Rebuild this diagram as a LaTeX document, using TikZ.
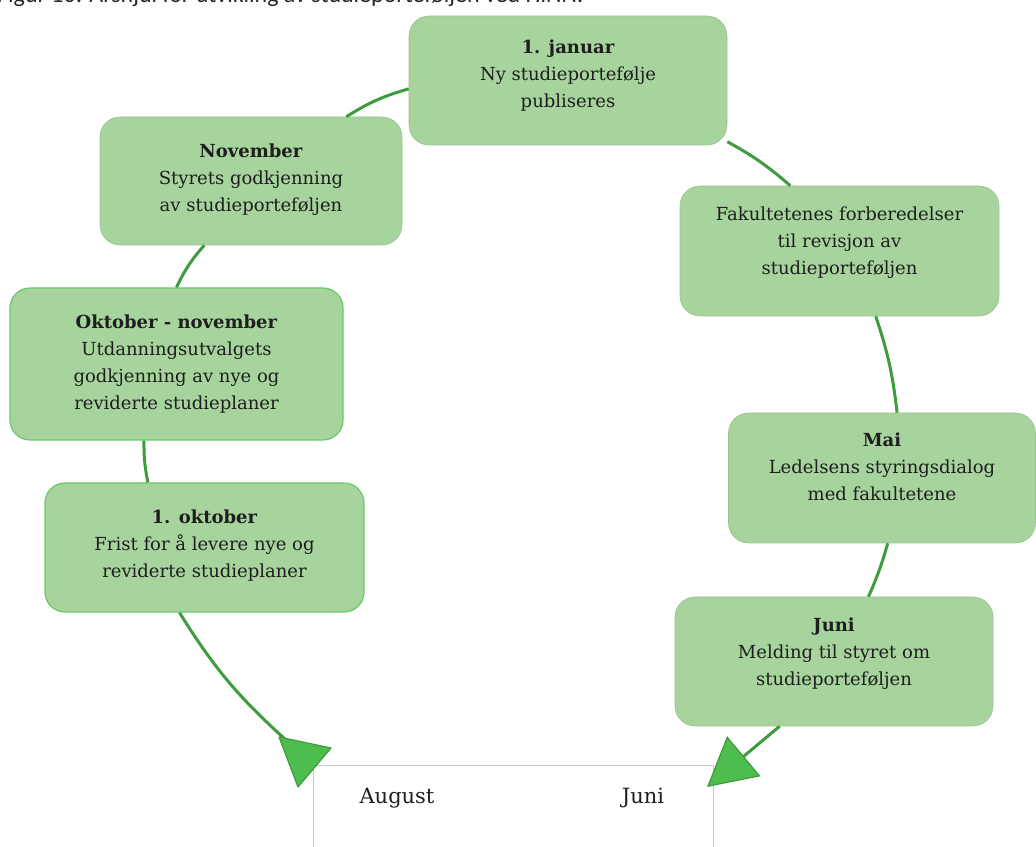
\documentclass[tikz,border=0pt]{standalone}
\usepackage{fontspec}
\setmainfont{DejaVu Serif}
\newfontfamily\capfont{Carlito}
\usetikzlibrary{arrows.meta}

\definecolor{boksgronn}{HTML}{A7D49D}
\definecolor{linjegronn}{HTML}{3E9B3E}
\definecolor{pilgronn}{HTML}{4DBE4D}
\definecolor{tekstgraa}{HTML}{1E1E1E}

\tikzset{
	boks/.style={rectangle, rounded corners=20pt, fill=boksgronn, draw=boksgronn!92!black, line width=0.6pt,
		inner sep=0pt, minimum width=318pt, minimum height=129pt, align=center, text=tekstgraa,
		font=\fontsize{18}{27}\selectfont},
	kantboks/.style={boks, draw=pilgronn!85!white, line width=1.2pt},
	linje/.style={draw=linjegronn, line width=3pt},
	pil/.style={linje, -{Triangle[length=48pt,width=52pt,fill=pilgronn,line width=1.2pt]}},
	pilhode/.style={fill=pilgronn, draw=linjegronn, line width=1.2pt, line join=round},
	maaned/.style={font=\fontsize{21}{24}\selectfont, text=tekstgraa}
}
% extra empty line to lift the text a little
\newcommand{\luft}[1]{\\[#1]\mbox{}}

\begin{document}
\begin{tikzpicture}[x=1pt,y=1pt]
		\useasboundingbox (0,0) rectangle (1036,846);
		% caption, mostly cut off at the top
		\node[anchor=base west, inner sep=0pt, font=\capfont\fontsize{24}{26}\selectfont, text=black!85] (tittel) at (-3,843)
			{Figur 10: Årshjul for utvikling av studieporteføljen ved HiNN.};

		% boxes
		\node[boks] (jan) at (568,765.5) {\textbf{1. januar}\\Ny studieportefølje\\publiseres\luft{-14pt}};
		\node[boks, minimum width=302pt, minimum height=128pt] (nov) at (251,665) {\textbf{November}\\Styrets godkjenning\\av studieporteføljen\luft{-20pt}};
		\node[boks, minimum width=319pt, minimum height=130pt] (fak) at (839.5,595) {Fakultetenes forberedelser\\til revisjon av\\studieporteføljen\luft{-6pt}};
		\node[kantboks, minimum width=333pt, minimum height=152pt] (oktnov) at (176.5,482) {\textbf{Oktober - november}\\Utdanningsutvalgets\\godkjenning av nye og\\reviderte studieplaner};
		\node[boks, minimum width=307pt, minimum height=130pt] (mai) at (882,368) {\textbf{Mai}\\Ledelsens styringsdialog\\med fakultetene\luft{-4pt}};
		\node[kantboks, minimum width=319pt] (okt) at (204.5,298.5) {\textbf{1. oktober}\\Frist for å levere nye og\\reviderte studieplaner\luft{-20pt}};
		\node[boks] (juni) at (834,184.5) {\textbf{Juni}\\Melding til styret om\\studieporteføljen\luft{-8pt}};

		% bottom box with the months
		\draw[draw=black!22, line width=0.8pt] (313,-10) rectangle (713,81);
		\node[maaned] (aug) at (397,48) {August};
		\node[maaned] (jun) at (643,48) {Juni};
		\coordinate (augslutt) at (286,106);
		\coordinate (junpil) at (707,59);

		% the wheel
		\draw[linje] (okt.131) to[bend left=6] (oktnov.247);
		\draw[linje] (oktnov.north) to[bend left=8] (nov.234);
		\draw[linje] (nov.34) to[bend left=8] (jan.183);
		\draw[linje] (jan.-21) to[bend left=6] (fak.127);
		\draw[linje] (fak.-61) to[bend left=6] (mai.77);
		\draw[linje] (mai.-85) to[bend left=4] (juni.62);
		\draw[pil] (juni.230) -- (junpil);
		\draw[linje] (okt.249) to[bend right=8] (augslutt);
		% arrow head towards August, turned downwards
		\filldraw[pilhode] (279,109) -- (331,98) -- (298,59) -- cycle;
	\end{tikzpicture}
\end{document}
